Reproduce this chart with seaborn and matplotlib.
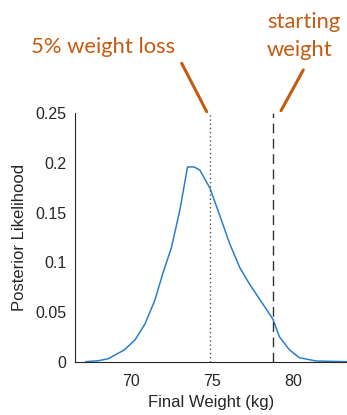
import matplotlib
matplotlib.use("Agg")
import matplotlib.pyplot as plt
from matplotlib.lines import Line2D
import seaborn as sns
import pandas as pd

# Datos
peso = [67.2, 68.0, 68.6, 69.6, 70.25, 70.86, 71.47, 71.98, 72.49, 73.0, 73.48,
        73.88, 74.23, 74.85, 75.36, 76.07, 76.69, 77.3, 78.12, 78.73, 79.14,
        79.75, 80.37, 81.4, 83.3]
verosimilitud = [0.0, 0.001, 0.003, 0.012, 0.022, 0.038, 0.062, 0.09, 0.115, 0.152,
                 0.196, 0.196, 0.193, 0.175, 0.152, 0.119, 0.095, 0.078, 0.058,
                 0.043, 0.025, 0.012, 0.004, 0.0007, 0.0]
peso_inicial = 78.77
peso_objetivo = 74.85
xticks = [70, 75, 80]
yticks = [0, 0.05, 0.1, 0.15, 0.2, 0.25]
ytick_labels = ["0", "0.05", "0.1", "0.15", "0.2", "0.25"]

sns.set_style("white")
plt.rcParams["font.family"] = ["Liberation Sans", "DejaVu Sans"]

W, H = 347, 415
fig = plt.figure(figsize=(W / 100, H / 100), dpi=100)
ax = fig.add_axes([75 / W, (H - 361.7) / H, (W - 75) / W, (361.7 - 113.3) / H])

df = pd.DataFrame({"peso": peso, "lik": verosimilitud})
sns.lineplot(data=df, x="peso", y="lik", ax=ax, color="#2a7fcc", linewidth=1.1)

ax.plot([peso_objetivo, peso_objetivo], [0, 0.25], color="#555555", lw=1.0,
        linestyle=(0, (1, 2)))
ax.plot([peso_inicial, peso_inicial], [0, 0.25], color="#333333", lw=1.0,
        linestyle=(0, (7, 4)))

ax.set_xlim(66.55, 83.3)
ax.set_ylim(0, 0.25)
ax.set_xticks(xticks)
ax.set_yticks(yticks)
ax.set_yticklabels(ytick_labels)
ax.tick_params(direction="in", length=4.5, width=0.8, colors="#262626",
               labelsize=11.5, pad=6)
ax.tick_params(axis="x", pad=9)
ax.set_xlabel("Final Weight (kg)", fontsize=12, color="#262626", labelpad=4)
ax.set_ylabel("Posterior Likelihood", fontsize=12, color="#262626", labelpad=6)
for s in ["top", "right"]:
    ax.spines[s].set_visible(False)
for s in ["left", "bottom"]:
    ax.spines[s].set_color("#262626")
    ax.spines[s].set_linewidth(0.8)

# Anotaciones en naranja
naranja = "#c55a11"
fig.text(103 / W, 1 - 47 / H, "5% weight loss", color=naranja, fontsize=15.8,
         family="Lato", ha="center", va="center")
fig.text(267 / W, 1 - 22 / H, "starting", color=naranja, fontsize=15.8,
         family="Lato", ha="left", va="center")
fig.text(267 / W, 1 - 50 / H, "weight", color=naranja, fontsize=15.8,
         family="Lato", ha="left", va="center")
fig.add_artist(Line2D([181.7 / W, 206.7 / W], [1 - 63.3 / H, 1 - 111.7 / H],
                      color=naranja, lw=2.2))
fig.add_artist(Line2D([303.3 / W, 281 / W], [1 - 70 / H, 1 - 110.7 / H],
                      color=naranja, lw=2.2))

fig.savefig("out.png", dpi=100)
